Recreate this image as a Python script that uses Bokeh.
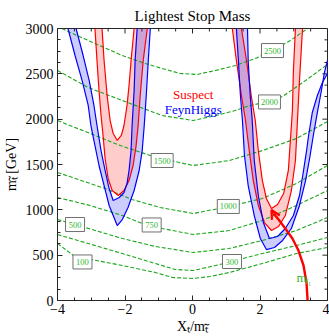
from bokeh.plotting import figure
from bokeh.models import Range1d, FixedTicker, Arrow, OpenHead, ColumnDataSource
from bokeh.core.properties import value
from bokeh.embed import file_html
from bokeh.resources import INLINE

# ---------------- data (X_t/m_stop , m_stop in GeV) ----------------
# green dashed contours of the lightest stop mass
c100_x = [-4.0, -3.54, -2.97, -2.08, -1.10, -0.60, 0.02, 0.53, 1.09, 2.07, 3.08, 4.0]
c100_m = [629, 500, 450, 386, 309, 254, 243, 265, 309, 408, 518, 585]
c300_x = [-4.0, -3.09, -2.08, -1.10, -0.51, 0.02, 0.68, 1.16, 2.07, 3.08, 4.0]
c300_m = [728, 629, 518, 408, 342, 331, 386, 430, 518, 607, 695]
c500_x = [-4.0, -3.18, -2.08, -1.10, 0.02, 1.09, 2.07, 3.08, 4.0]
c500_m = [893, 805, 684, 596, 529, 574, 662, 772, 915]
c750_x = [-4.0, -3.03, -2.08, -1.49, -0.90, 0.02, 1.09, 2.07, 3.08, 4.0]
c750_m = [1136, 1048, 937, 849, 794, 728, 772, 882, 1048, 1213]
c1000_x = [-4.0, -2.59, -1.79, -0.96, 0.02, 1.09, 2.07, 3.08, 4.0]
c1000_m = [1412, 1235, 1114, 1026, 960, 1037, 1125, 1290, 1489]
c1500_x = [-4.0, -3.18, -2.14, -1.25, -0.66, 0.02, 0.68, 1.09, 2.07, 3.08, 4.0]
c1500_m = [1985, 1864, 1709, 1599, 1544, 1489, 1522, 1544, 1654, 1787, 1974]
c2000_x = [-4.0, -3.09, -2.08, -0.90, 0.02, 0.68, 1.27, 1.71, 2.28, 2.67, 3.35, 4.0]
c2000_m = [2537, 2349, 2206, 2040, 1985, 2040, 2096, 2151, 2195, 2250, 2426, 2603]
c2500_x = [-3.87, -3.69, -2.89, -2.08, -1.40, -0.90, -0.36, 0.14, 0.68, 1.27, 1.86, 2.37, 2.90, 3.41]
c2500_m = [3000, 2967, 2835, 2702, 2614, 2559, 2504, 2493, 2537, 2592, 2669, 2757, 2868, 3000]

label_text = ["100", "300", "500", "750", "1000", "1500", "2000", "2500"]
label_x = [-3.26, 1.17, -3.48, -1.21, 1.06, -0.90, 2.28, 2.37]
label_m = [425, 430, 838, 833, 1037, 1544, 2190, 2757]

# Suspect (red) band, left branch
sl_out_x = [-2.89, -2.83, -2.77, -2.71, -2.65, -2.59, -2.50, -2.38, -2.20, -2.03, -1.88, -1.76, -1.67, -1.61, -1.55, -1.46, -1.34]
sl_out_m = [3000, 2647, 2316, 2040, 1820, 1566, 1346, 1213, 1158, 1213, 1323, 1489, 1709, 1930, 2261, 2647, 3000]
sl_in_x = [-2.68, -2.62, -2.53, -2.44, -2.35, -2.23, -2.11, -2.03, -1.94, -1.88, -1.82, -1.73]
sl_in_m = [3000, 2647, 2261, 1985, 1842, 1765, 1820, 1930, 2151, 2371, 2647, 3000]
# Suspect (red) band, right branch
sr_out_x = [1.18, 1.30, 1.45, 1.57, 1.68, 1.80, 1.95, 2.13, 2.34, 2.55, 2.75, 2.93, 3.05, 3.11, 3.17, 3.26]
sr_out_m = [3000, 2647, 2261, 1985, 1654, 1323, 1048, 860, 772, 816, 937, 1213, 1544, 1985, 2426, 3000]
sr_in_x = [1.45, 1.60, 1.74, 1.86, 1.95, 2.07, 2.19, 2.34, 2.52, 2.70, 2.84, 2.90, 2.96, 2.99, 3.05]
sr_in_m = [3000, 2647, 2261, 1985, 1654, 1323, 1125, 1015, 1059, 1180, 1434, 1765, 2096, 2537, 3000]

# FeynHiggs (blue) band, left branch
fl_out_x = [-3.69, -3.48, -3.27, -3.09, -3.01, -2.89, -2.77, -2.62, -2.47, -2.23, -2.08, -1.91, -1.73, -1.58, -1.49, -1.43, -1.37, -1.31, -1.25]
fl_out_m = [3000, 2702, 2426, 2151, 1930, 1709, 1489, 1268, 1048, 827, 893, 1026, 1213, 1434, 1654, 1930, 2261, 2647, 3000]
fl_in_x = [-3.45, -3.24, -3.06, -2.92, -2.83, -2.71, -2.59, -2.47, -2.35, -2.17, -2.03, -1.94, -1.88, -1.82, -1.79, -1.73, -1.70, -1.64]
fl_in_m = [3000, 2702, 2426, 2151, 1930, 1654, 1434, 1235, 1103, 1136, 1191, 1290, 1434, 1654, 1930, 2316, 2647, 3000]
# FeynHiggs (blue) band, right branch
fr_out_x = [1.30, 1.36, 1.42, 1.48, 1.54, 1.65, 1.83, 2.01, 2.19, 2.43, 2.67, 2.93, 3.17, 3.35, 3.47, 3.58, 3.70, 3.82, 3.91, 4.00]
fr_out_m = [3000, 2647, 2261, 1985, 1599, 1268, 937, 684, 562, 585, 662, 794, 1048, 1323, 1566, 1820, 2074, 2316, 2515, 2647]
fr_in_x = [1.63, 1.65, 1.71, 1.77, 1.83, 1.95, 2.10, 2.28, 2.52, 2.75, 2.99, 3.17, 3.29, 3.38, 3.44, 3.55, 3.70, 3.85, 4.00]
fr_in_m = [3000, 2647, 2261, 1985, 1544, 1158, 860, 684, 706, 794, 937, 1158, 1434, 1654, 1820, 2074, 2261, 2404, 2504]

# red arrow pointing at the m_stop1 region (first two points lie below the frame)
arrow_x = [3.45, 3.44, 3.41, 3.38, 3.29, 3.14, 2.96, 2.75, 2.55, 2.40]
arrow_m = [-430, -165, 0, 188, 386, 551, 684, 794, 893, 960]
arrow_tip = (2.34, 1000)

# ticks
x_tick_major = [-4, -2, 0, 2, 4]
x_tick_minor = [-3.5, -3, -2.5, -1.5, -1, -0.5, 0.5, 1, 1.5, 2.5, 3, 3.5]
y_tick_major = [0, 500, 1000, 1500, 2000, 2500, 3000]
y_tick_minor = [125, 250, 375, 625, 750, 875, 1125, 1250, 1375, 1625, 1750, 1875,
                2125, 2250, 2375, 2625, 2750, 2875]
x_tick_labels = {-4: "\u22124", -2: "\u22122", 0: "0", 2: "2", 4: "4"}

# ---------------- styling ----------------
SERIF = "Liberation Serif"
GREEN = "#1aa61a"
LBLGREEN = "#2fb82f"
RED = "#ff0000"
BLUE = "#0000ff"
AXC = "#262626"
X0, X1, Y0, Y1 = -4.0, 4.0, 0.0, 3000.0
MAJ_DX, MIN_DX = 0.15, 0.09   # 5 px / 3 px tick lengths in x units
MAJ_DY, MIN_DY = 55.0, 33.0   # 5 px / 3 px tick lengths in y units

p = figure(width=329, height=336, output_backend="svg", toolbar_location=None,
           x_range=Range1d(X0, X1), y_range=Range1d(Y0, Y1),
           min_border_left=57, min_border_right=2, min_border_top=28, min_border_bottom=36,
           title="Lightest Stop Mass")
p.outline_line_color = AXC
p.outline_line_width = 1
p.grid.visible = False
p.background_fill_color = "white"
p.border_fill_color = "white"
p.title.text_font = SERIF
p.title.text_font_size = "15px"
p.title.text_font_style = "normal"
p.title.align = "center"
p.title.text_color = "black"

xa = p.xaxis[0]
ya = p.yaxis[0]
xa.ticker = FixedTicker(ticks=x_tick_major, minor_ticks=x_tick_minor)
xa.major_label_overrides = x_tick_labels
xa.axis_label = "X\u209c/m\u209c\u0303"
ya.ticker = FixedTicker(ticks=y_tick_major, minor_ticks=y_tick_minor)
ya.axis_label = "m\u209c\u0303 [GeV]"

for ax in (xa, ya):
    ax.major_tick_in = 5
    ax.major_tick_out = 0
    ax.minor_tick_in = 3
    ax.minor_tick_out = 0
    ax.axis_line_color = AXC
    ax.major_tick_line_color = AXC
    ax.minor_tick_line_color = AXC
    ax.major_label_text_font = SERIF
    ax.major_label_text_font_size = "14px"
    ax.major_label_text_color = "black"
    ax.axis_label_text_font = SERIF
    ax.axis_label_text_font_size = "14px"
    ax.axis_label_text_font_style = "normal"
    ax.axis_label_text_color = "black"
xa.major_label_standoff = 3
xa.axis_label_standoff = 2
ya.major_label_standoff = 4
ya.axis_label_standoff = 4

# inward ticks on the top and right frame edges
p.segment(x0=[X1] * len(y_tick_major), y0=y_tick_major, x1=[X1 - MAJ_DX] * len(y_tick_major), y1=y_tick_major,
          line_color=AXC, line_width=1)
p.segment(x0=[X1] * len(y_tick_minor), y0=y_tick_minor, x1=[X1 - MIN_DX] * len(y_tick_minor), y1=y_tick_minor,
          line_color=AXC, line_width=1)
p.segment(x0=x_tick_major, y0=[Y1] * len(x_tick_major), x1=x_tick_major, y1=[Y1 - MAJ_DY] * len(x_tick_major),
          line_color=AXC, line_width=1)
p.segment(x0=x_tick_minor, y0=[Y1] * len(x_tick_minor), x1=x_tick_minor, y1=[Y1 - MIN_DY] * len(x_tick_minor),
          line_color=AXC, line_width=1)

# bands (fills)
def ring(ox, om, ix, im):
    return ox + ix[::-1], om + im[::-1]

for (ox, om, ix, im) in [(sl_out_x, sl_out_m, sl_in_x, sl_in_m), (sr_out_x, sr_out_m, sr_in_x, sr_in_m)]:
    bx, bm = ring(ox, om, ix, im)
    p.patch(bx, bm, fill_color=RED, fill_alpha=0.2, line_color=None)
for (ox, om, ix, im) in [(fl_out_x, fl_out_m, fl_in_x, fl_in_m), (fr_out_x, fr_out_m, fr_in_x, fr_in_m)]:
    bx, bm = ring(ox, om, ix, im)
    p.patch(bx, bm, fill_color=BLUE, fill_alpha=0.2, line_color=None)

# contours
for cx, cm in [(c100_x, c100_m), (c300_x, c300_m), (c500_x, c500_m), (c750_x, c750_m),
               (c1000_x, c1000_m), (c1500_x, c1500_m), (c2000_x, c2000_m), (c2500_x, c2500_m)]:
    p.line(cx, cm, line_color=GREEN, line_width=1.1, line_dash="4 2")

# band boundary lines
for cx, cm in [(sl_out_x, sl_out_m), (sl_in_x, sl_in_m), (sr_out_x, sr_out_m), (sr_in_x, sr_in_m)]:
    p.line(cx, cm, line_color=RED, line_width=1.2)
for cx, cm in [(fl_out_x, fl_out_m), (fl_in_x, fl_in_m), (fr_out_x, fr_out_m), (fr_in_x, fr_in_m)]:
    p.line(cx, cm, line_color=BLUE, line_width=1.2)

# contour labels
lsrc = ColumnDataSource(dict(x=label_x, y=label_m, text=label_text,
                             w=[19 if len(t) == 3 else 22 for t in label_text]))
p.rect(x="x", y="y", width="w", height=14, width_units="screen", height_units="screen",
       source=lsrc, fill_color="white", line_color="#707070", line_width=1)
p.text(x="x", y="y", text="text", source=lsrc, text_align="center", text_baseline="middle",
       text_font=value(SERIF), text_font_size="8.5px", text_color=LBLGREEN)

# legend texts
p.text(x=[0.02], y=[2272], text=["Suspect"], text_align="center", text_baseline="alphabetic",
       text_font=value(SERIF), text_font_size="13px", text_color=RED)
p.text(x=[0.02], y=[2107], text=["FeynHiggs"], text_align="center", text_baseline="alphabetic",
       text_font=value(SERIF), text_font_size="13px", text_color=BLUE)

# arrow: in-frame part as a glyph, below-frame part as (unclipped) annotations
p.line(arrow_x[2:], arrow_m[2:], line_color=RED, line_width=2.4)
for i in range(2):
    p.add_layout(Arrow(end=None, x_start=arrow_x[i], y_start=arrow_m[i],
                       x_end=arrow_x[i + 1], y_end=arrow_m[i + 1],
                       line_color=RED, line_width=2.4))
p.add_layout(Arrow(end=OpenHead(size=9, line_color=RED, line_width=2.2),
                   x_start=arrow_x[-1], y_start=arrow_m[-1], x_end=arrow_tip[0], y_end=arrow_tip[1],
                   line_color=RED, line_width=2.4))

# m_stop1 annotation
p.text(x=[3.08], y=[254], text=["m"], text_align="left", text_baseline="alphabetic",
       text_font=value(SERIF), text_font_size="13px", text_color=LBLGREEN)
p.text(x=[3.35], y=[210], text=["t\u0303\u2081"], text_align="left", text_baseline="alphabetic",
       text_font=value(SERIF), text_font_size="9px", text_color=LBLGREEN)

open("out.html", "w").write(file_html(p, INLINE))
